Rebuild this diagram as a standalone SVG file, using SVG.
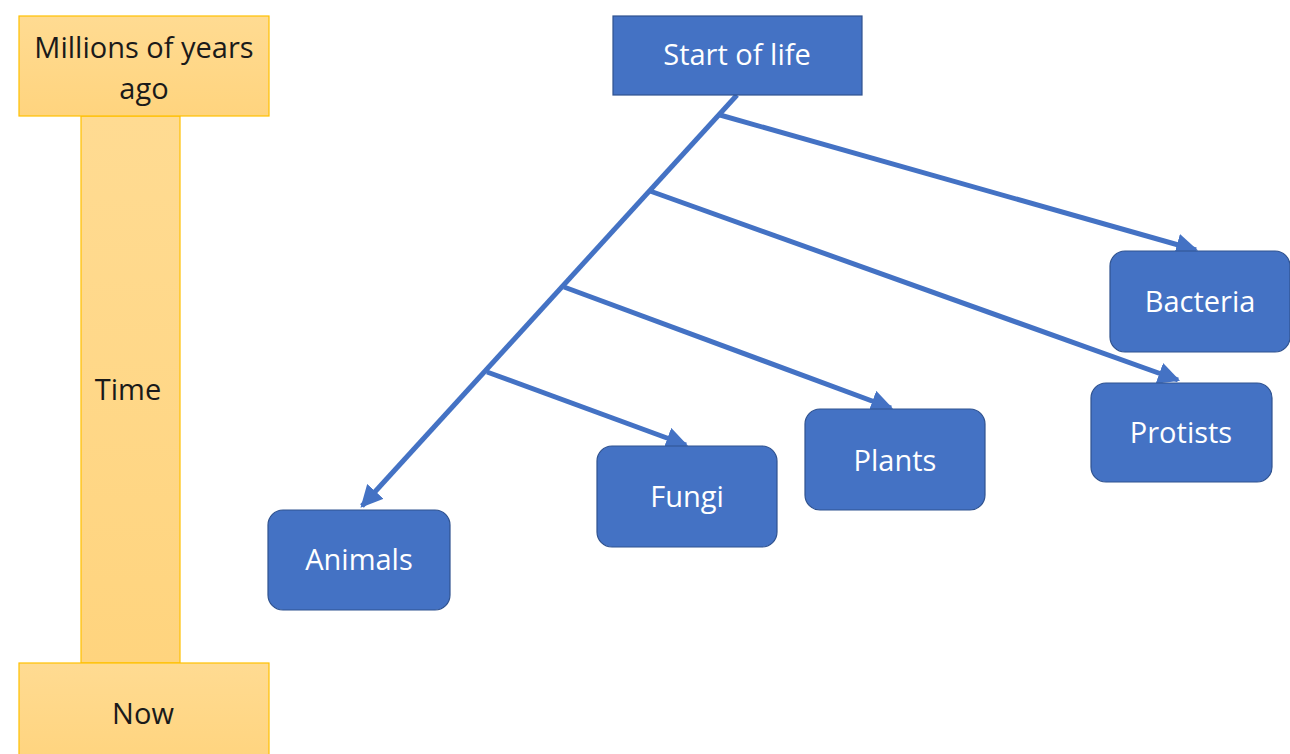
<svg xmlns="http://www.w3.org/2000/svg" width="1290" height="754" viewBox="0 0 1290 754">
<defs>
<linearGradient id="yg" x1="0" y1="0" x2="0" y2="1">
<stop offset="0" stop-color="#FFDB92"/>
<stop offset="1" stop-color="#FFD47E"/>
</linearGradient>
<marker id="ah" viewBox="0 0 10 10" refX="9" refY="5" markerWidth="4.4" markerHeight="4.4" orient="auto" markerUnits="strokeWidth">
<path d="M0,0 L10,5 L0,10 z" fill="#4472C4"/>
</marker>
<style>
.y{fill:url(#yg);stroke:#FFC000;stroke-width:1.2}
.b{fill:#4472C4;stroke:#2F528F;stroke-width:1.2}
.t{font-family:"Open Sans","Liberation Sans",Arial,sans-serif;font-size:29px;text-anchor:middle;dominant-baseline:central}
.dk{fill:#1a1a1a}
.wt{fill:#ffffff}
.c{stroke:#4472C4;stroke-width:5;fill:none}
</style>
</defs>
<rect width="1290" height="754" fill="#ffffff"/>
<g id="time-bar">
<rect class="y" x="81" y="116" width="99" height="547"/>
<text class="t dk" x="128" y="388">Time</text>
</g>
<g id="millions">
<rect class="y" x="19" y="16" width="250" height="100"/>
<text class="t dk" x="144" y="46">Millions of years</text>
<text class="t dk" x="144" y="87">ago</text>
</g>
<g id="now">
<rect class="y" x="19" y="663" width="250" height="100"/>
<text class="t dk" x="143" y="712">Now</text>
</g>
<g id="connectors">
<line class="c" x1="737" y1="95" x2="362" y2="506" marker-end="url(#ah)"/>
<line class="c" x1="720" y1="115" x2="1196" y2="250" marker-end="url(#ah)"/>
<line class="c" x1="650" y1="191" x2="1178" y2="380" marker-end="url(#ah)"/>
<line class="c" x1="564" y1="287" x2="891" y2="408" marker-end="url(#ah)"/>
<line class="c" x1="487" y1="372" x2="686" y2="445" marker-end="url(#ah)"/>
</g>
<g id="start">
<rect class="b" x="613" y="16" width="249" height="79"/>
<text class="t wt" x="737" y="53">Start of life</text>
</g>
<g id="animals">
<rect class="b" x="268" y="510" width="182" height="100" rx="15"/>
<text class="t wt" x="359" y="558">Animals</text>
</g>
<g id="fungi">
<rect class="b" x="597" y="446" width="180" height="101" rx="15"/>
<text class="t wt" x="687" y="495">Fungi</text>
</g>
<g id="plants">
<rect class="b" x="805" y="409" width="180" height="101" rx="15"/>
<text class="t wt" x="895" y="459">Plants</text>
</g>
<g id="protists">
<rect class="b" x="1091" y="383" width="181" height="99" rx="15"/>
<text class="t wt" x="1181" y="431">Protists</text>
</g>
<g id="bacteria">
<rect class="b" x="1110" y="251" width="180" height="101" rx="15"/>
<text class="t wt" x="1200" y="300">Bacteria</text>
</g>
</svg>
